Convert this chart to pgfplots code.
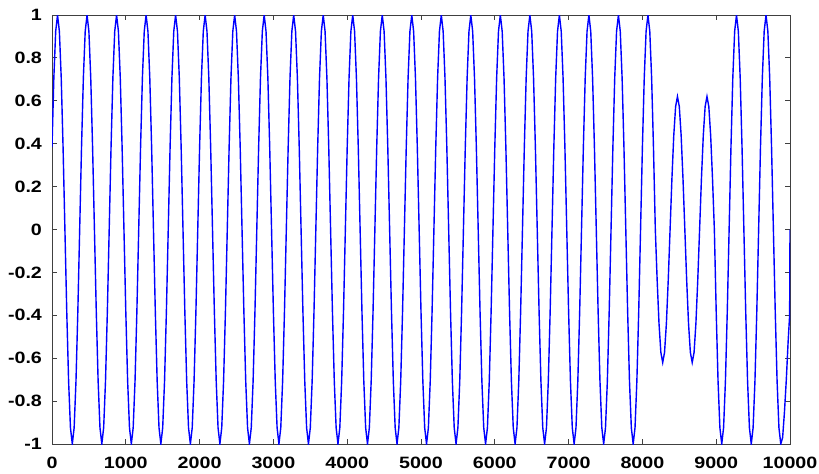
\documentclass[border=0pt]{standalone}
\usepackage{fontspec}
\setmainfont{Liberation Sans}
\usepackage{graphicx}
\usepackage{pgfplots}
\pgfplotsset{compat=1.18}

% tick labels look stretched sideways in the original
\newcommand{\tl}[1]{\scalebox{1.2}[1]{#1}}

\begin{document}
\begin{tikzpicture}
\begin{axis}[
  scale only axis,
  width=369pt, height=214.5pt,
  xmin=0, xmax=10000, ymin=-1, ymax=1,
  xtick={0,1000,2000,3000,4000,5000,6000,7000,8000,9000,10000},
  ytick={-1,-0.8,-0.6,-0.4,-0.2,0,0.2,0.4,0.6,0.8,1},
  scaled ticks=false,
  tick align=inside,
  xtick pos=both, ytick pos=both,
  major tick length=2.5pt,
  axis line style={black!75, line width=0.5pt},
  tick style={black!75, line width=0.5pt},
  ticklabel style={font=\fontsize{8.2}{9}\selectfont\bfseries},
  /pgf/number format/assume math mode=true,
  /pgf/number format/1000 sep={},
  xticklabel={\tl{\pgfmathprintnumber{\tick}}},
  yticklabel={\tl{\pgfmathprintnumber{\tick}}},
  xticklabel style={yshift=-2.8pt},
  yticklabel style={xshift=-1.5pt},
]
\addplot[blue, line width=0.7pt, mark=none] coordinates {
(0,0.383)(25,0.707)(50,0.924)(75,1)(100,0.924)(125,0.707)(150,0.383)(175,0)
(200,-0.383)(225,-0.707)(250,-0.924)(275,-1)(300,-0.924)(325,-0.707)(350,-0.383)(375,0)
(400,0.383)(425,0.707)(450,0.924)(475,1)(500,0.924)(525,0.707)(550,0.383)(575,0)
(600,-0.383)(625,-0.707)(650,-0.924)(675,-1)(700,-0.924)(725,-0.707)(750,-0.383)(775,0)
(800,0.383)(825,0.707)(850,0.924)(875,1)(900,0.924)(925,0.707)(950,0.383)(975,0)
(1000,-0.383)(1025,-0.707)(1050,-0.924)(1075,-1)(1100,-0.924)(1125,-0.707)(1150,-0.383)(1175,0)
(1200,0.383)(1225,0.707)(1250,0.924)(1275,1)(1300,0.924)(1325,0.707)(1350,0.383)(1375,0)
(1400,-0.383)(1425,-0.707)(1450,-0.924)(1475,-1)(1500,-0.924)(1525,-0.707)(1550,-0.383)(1575,0)
(1600,0.383)(1625,0.707)(1650,0.924)(1675,1)(1700,0.924)(1725,0.707)(1750,0.383)(1775,0)
(1800,-0.383)(1825,-0.707)(1850,-0.924)(1875,-1)(1900,-0.924)(1925,-0.707)(1950,-0.383)(1975,0)
(2000,0.383)(2025,0.707)(2050,0.924)(2075,1)(2100,0.924)(2125,0.707)(2150,0.383)(2175,0)
(2200,-0.383)(2225,-0.707)(2250,-0.924)(2275,-1)(2300,-0.924)(2325,-0.707)(2350,-0.383)(2375,0)
(2400,0.383)(2425,0.707)(2450,0.924)(2475,1)(2500,0.924)(2525,0.707)(2550,0.383)(2575,0)
(2600,-0.383)(2625,-0.707)(2650,-0.924)(2675,-1)(2700,-0.924)(2725,-0.707)(2750,-0.383)(2775,0)
(2800,0.383)(2825,0.707)(2850,0.924)(2875,1)(2900,0.924)(2925,0.707)(2950,0.383)(2975,0)
(3000,-0.383)(3025,-0.707)(3050,-0.924)(3075,-1)(3100,-0.924)(3125,-0.707)(3150,-0.383)(3175,0)
(3200,0.383)(3225,0.707)(3250,0.924)(3275,1)(3300,0.924)(3325,0.707)(3350,0.383)(3375,0)
(3400,-0.383)(3425,-0.707)(3450,-0.924)(3475,-1)(3500,-0.924)(3525,-0.707)(3550,-0.383)(3575,0)
(3600,0.383)(3625,0.707)(3650,0.924)(3675,1)(3700,0.924)(3725,0.707)(3750,0.383)(3775,0)
(3800,-0.383)(3825,-0.707)(3850,-0.924)(3875,-1)(3900,-0.924)(3925,-0.707)(3950,-0.383)(3975,0)
(4000,0.383)(4025,0.707)(4050,0.924)(4075,1)(4100,0.924)(4125,0.707)(4150,0.383)(4175,0)
(4200,-0.383)(4225,-0.707)(4250,-0.924)(4275,-1)(4300,-0.924)(4325,-0.707)(4350,-0.383)(4375,0)
(4400,0.383)(4425,0.707)(4450,0.924)(4475,1)(4500,0.924)(4525,0.707)(4550,0.383)(4575,0)
(4600,-0.383)(4625,-0.707)(4650,-0.924)(4675,-1)(4700,-0.924)(4725,-0.707)(4750,-0.383)(4775,0)
(4800,0.383)(4825,0.707)(4850,0.924)(4875,1)(4900,0.924)(4925,0.707)(4950,0.383)(4975,0)
(5000,-0.383)(5025,-0.707)(5050,-0.924)(5075,-1)(5100,-0.924)(5125,-0.707)(5150,-0.383)(5175,0)
(5200,0.383)(5225,0.707)(5250,0.924)(5275,1)(5300,0.924)(5325,0.707)(5350,0.383)(5375,0)
(5400,-0.383)(5425,-0.707)(5450,-0.924)(5475,-1)(5500,-0.924)(5525,-0.707)(5550,-0.383)(5575,0)
(5600,0.383)(5625,0.707)(5650,0.924)(5675,1)(5700,0.924)(5725,0.707)(5750,0.383)(5775,0)
(5800,-0.383)(5825,-0.707)(5850,-0.924)(5875,-1)(5900,-0.924)(5925,-0.707)(5950,-0.383)(5975,0)
(6000,0.383)(6025,0.707)(6050,0.924)(6075,1)(6100,0.924)(6125,0.707)(6150,0.383)(6175,0)
(6200,-0.383)(6225,-0.707)(6250,-0.924)(6275,-1)(6300,-0.924)(6325,-0.707)(6350,-0.383)(6375,0)
(6400,0.383)(6425,0.707)(6450,0.924)(6475,1)(6500,0.924)(6525,0.707)(6550,0.383)(6575,0)
(6600,-0.383)(6625,-0.707)(6650,-0.924)(6675,-1)(6700,-0.924)(6725,-0.707)(6750,-0.383)(6775,0)
(6800,0.383)(6825,0.707)(6850,0.924)(6875,1)(6900,0.924)(6925,0.707)(6950,0.383)(6975,0)
(7000,-0.383)(7025,-0.707)(7050,-0.924)(7075,-1)(7100,-0.924)(7125,-0.707)(7150,-0.383)(7175,0)
(7200,0.383)(7225,0.707)(7250,0.924)(7275,1)(7300,0.924)(7325,0.707)(7350,0.383)(7375,0)
(7400,-0.383)(7425,-0.707)(7450,-0.924)(7475,-1)(7500,-0.924)(7525,-0.707)(7550,-0.383)(7575,0)
(7600,0.383)(7625,0.707)(7650,0.924)(7675,1)(7700,0.924)(7725,0.707)(7750,0.383)(7775,0)
(7800,-0.383)(7825,-0.707)(7850,-0.924)(7875,-1)(7900,-0.924)(7925,-0.707)(7950,-0.383)(7975,0)
(8000,0.383)(8025,0.707)(8050,0.924)(8075,1)(8100,0.924)(8125,0.707)(8150,0.383)(8175,0)
(8200,-0.237)(8225,-0.438)(8250,-0.573)(8275,-0.62)(8300,-0.573)(8325,-0.438)(8350,-0.237)(8375,0)
(8400,0.237)(8425,0.438)(8450,0.573)(8475,0.62)(8500,0.573)(8525,0.438)(8550,0.237)(8575,0)
(8600,-0.237)(8625,-0.438)(8650,-0.573)(8675,-0.62)(8700,-0.573)(8725,-0.438)(8750,-0.237)(8775,0)
(8800,0.237)(8825,0.438)(8850,0.573)(8875,0.62)(8900,0.573)(8925,0.438)(8950,0.237)(8975,0)
(9000,-0.383)(9025,-0.707)(9050,-0.924)(9075,-1)(9100,-0.924)(9125,-0.707)(9150,-0.383)(9175,0)
(9200,0.383)(9225,0.707)(9250,0.924)(9275,1)(9300,0.924)(9325,0.707)(9350,0.383)(9375,0)
(9400,-0.383)(9425,-0.707)(9450,-0.924)(9475,-1)(9500,-0.924)(9525,-0.707)(9550,-0.383)(9575,0)
(9600,0.383)(9625,0.707)(9650,0.924)(9675,1)(9700,0.924)(9725,0.707)(9750,0.383)(9775,0)
(9800,-0.383)(9825,-0.707)(9850,-0.924)(9875,-1)(9900,-0.97)(9925,-0.85)(9950,-0.7)(9975,-0.52)(9995,-0.4)(10000,0)
};
\end{axis}
\pgfresetboundingbox
\path[use as bounding box] ([shift={(-26pt,-14.5pt)}]current axis.south west) rectangle ([shift={(14.5pt,7.5pt)}]current axis.north east);
\end{tikzpicture}
\end{document}
